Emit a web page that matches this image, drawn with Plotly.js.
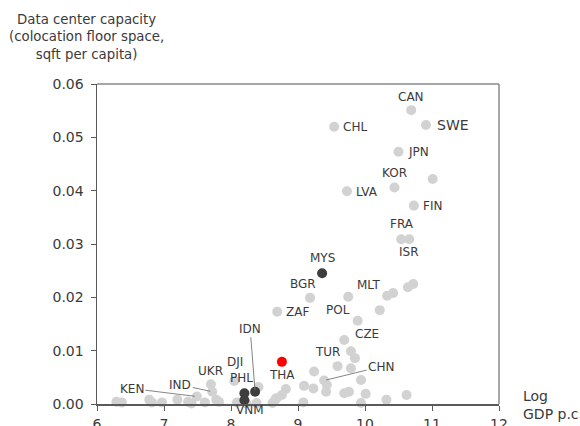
<!DOCTYPE html>
<html>
<head>
<meta charset="utf-8">
<script src="https://cdn.plot.ly/plotly-3.0.1.min.js"></script>
<style>html,body{margin:0;padding:0;background:#fff}#chart{width:580px;height:426px}</style>
</head>
<body>
<div id="chart"></div>
<script>
// Other countries (light grey)
const otherCountries = ['CAN','SWE','CHL','JPN','','KOR','LVA','FIN','FRA','ISR','BGR','ZAF','POL','MLT','','','','','CZE','','','','TUR','','','CHN','','','','','','','','','','','','','','','','','DJI','','','','','UKR','IND','','','','KEN','','','','','','','','',''];
const otherLogGdp = [10.69,10.91,9.54,10.50,11.01,10.44,9.73,10.73,10.54,10.66,9.18,8.69,9.75,10.33,10.42,10.64,10.72,10.22,9.89,9.69,9.79,9.85,9.59,9.79,9.24,9.39,9.43,9.42,9.94,9.09,9.23,8.82,8.76,8.66,9.69,9.76,10.01,10.32,10.62,9.08,9.94,8.62,8.05,8.41,8.38,8.09,8.23,7.70,7.72,7.78,7.82,7.61,7.49,7.41,7.36,7.20,6.97,6.78,6.82,6.29,6.37,8.68];
const otherCapacity = [0.0551,0.0523,0.0520,0.0473,0.0422,0.0406,0.0399,0.0372,0.0309,0.0309,0.0199,0.0173,0.0201,0.0203,0.0208,0.0219,0.0225,0.0176,0.0156,0.0120,0.0099,0.0086,0.0071,0.0067,0.0061,0.0044,0.0036,0.0023,0.0045,0.0034,0.0029,0.0028,0.0017,0.0008,0.0020,0.0023,0.0019,0.0008,0.0017,0.0003,0.0002,0.0002,0.0043,0.0032,0.0002,0.0003,0.0001,0.0037,0.0023,0.0008,0.0004,0.0003,0.0014,0.0001,0.0004,0.0008,0.0003,0.0008,0.0003,0.0004,0.0003,0.0011];

// Regional peers (dark)
const peerCountries = ['MYS','IDN','PHL','VNM'];
const peerLogGdp = [9.36,8.36,8.20,8.20];
const peerCapacity = [0.0245,0.0023,0.0020,0.0007];

// Thailand (red)
const focusCountries = ['THA'];
const focusLogGdp = [8.76];
const focusCapacity = [0.0079];

const xTickVals = [6,7,8,9,10,11,12];
const yTickVals = [0,0.01,0.02,0.03,0.04,0.05,0.06];

// label placement (pixel offsets from the point): [dx, dy, leader]
const labelPlacement = {
  CAN:[0,-13,false], SWE:[27,0,false], CHL:[21,0,false], JPN:[20,0,false], KOR:[0,-14,false],
  LVA:[20,1,false], FIN:[19,0,false], FRA:[1,-15,false], ISR:[0,13,false], MYS:[0,-15,false],
  BGR:[-7,-14,false], MLT:[-19,-11,false], ZAF:[20,0,false], POL:[-10,13,false], CZE:[9,13,false],
  TUR:[-10,-14,false], CHN:[57,-14,true], THA:[0,13,false], DJI:[1,-19,false], PHL:[-3,-15,false],
  VNM:[6,10,false], IDN:[-5,-63,true], UKR:[0,-13,false], IND:[-32,-7,true], KEN:[-65,-8,true]
};

const FONT = 'DejaVu Sans, Arial, sans-serif';
const textColor = '#3a3a3a';

function collect(names, xs, ys) {
  const out = [];
  names.forEach((n, i) => { if (n) out.push({name: n, x: xs[i], y: ys[i]}); });
  return out;
}
const labelled = [].concat(
  collect(otherCountries, otherLogGdp, otherCapacity),
  collect(peerCountries, peerLogGdp, peerCapacity),
  collect(focusCountries, focusLogGdp, focusCapacity)
);

const annotations = labelled.map(p => {
  const pl = labelPlacement[p.name] || [0, -13, false];
  const fsize = p.name === 'SWE' ? 14 : 12;
  if (pl[2]) {
    return {x: p.x, y: p.y, xref: 'x', yref: 'y', text: p.name, showarrow: true,
      ax: pl[0], ay: pl[1], arrowhead: 0, arrowwidth: 0.9, arrowcolor: '#777', standoff: 2,
      font: {family: FONT, size: fsize, color: textColor}};
  }
  return {x: p.x, y: p.y, xref: 'x', yref: 'y', text: p.name, showarrow: false,
    xshift: pl[0], yshift: -pl[1], font: {family: FONT, size: fsize, color: textColor}};
});

annotations.push({
  xref: 'paper', yref: 'paper', x: -0.025, y: 1.147, xanchor: 'center', yanchor: 'middle',
  text: 'Data center capacity<br>(colocation floor space,<br>sqft per capita)', showarrow: false,
  align: 'center', font: {family: FONT, size: 13.3, color: textColor}
});
annotations.push({
  xref: 'paper', yref: 'paper', x: 1.055, y: -0.004, xanchor: 'left', yanchor: 'middle',
  text: 'Log<br>GDP p.c.', showarrow: false, align: 'left',
  font: {family: FONT, size: 14, color: textColor}
});

const traces = [
  {x: otherLogGdp, y: otherCapacity, type: 'scatter', mode: 'markers', cliponaxis: false,
   marker: {size: 10, color: '#d2d2d2'}, hoverinfo: 'skip'},
  {x: peerLogGdp, y: peerCapacity, type: 'scatter', mode: 'markers', cliponaxis: false,
   marker: {size: 10, color: '#3d3d3d'}, hoverinfo: 'skip'},
  {x: focusLogGdp, y: focusCapacity, type: 'scatter', mode: 'markers', cliponaxis: false,
   marker: {size: 10, color: '#ff0000'}, hoverinfo: 'skip'}
];

const layout = {
  width: 580, height: 426,
  margin: {l: 97, r: 81, t: 84, b: 22},
  paper_bgcolor: '#fff', plot_bgcolor: '#fff',
  showlegend: false,
  font: {family: FONT, color: textColor},
  xaxis: {range: [6, 12], tickvals: xTickVals, ticktext: xTickVals.map(String),
    showgrid: false, zeroline: false, showline: true, linecolor: '#5a5a5a', linewidth: 1.5,
    ticks: 'outside', ticklen: 5, tickcolor: '#5a5a5a', ticklabelstandoff: 2,
    tickfont: {family: FONT, size: 14, color: textColor}},
  yaxis: {range: [0, 0.06], tickvals: yTickVals, ticktext: yTickVals.map(v => v.toFixed(2)),
    showgrid: false, zeroline: false, showline: true, linecolor: '#5a5a5a', linewidth: 1.5,
    ticks: 'outside', ticklen: 5, tickcolor: '#5a5a5a', ticklabelstandoff: 4,
    tickfont: {family: FONT, size: 14, color: textColor}},
  shapes: [
    {type: 'line', xref: 'paper', yref: 'paper', x0: 0, x1: 1, y0: 1, y1: 1, line: {color: '#8a8a8a', width: 1.5}},
    {type: 'line', xref: 'paper', yref: 'paper', x0: 1, x1: 1, y0: 0, y1: 1, line: {color: '#8a8a8a', width: 1.5}}
  ],
  annotations: annotations
};

Plotly.newPlot('chart', traces, layout, {staticPlot: true, displayModeBar: false});
</script>
</body>
</html>
